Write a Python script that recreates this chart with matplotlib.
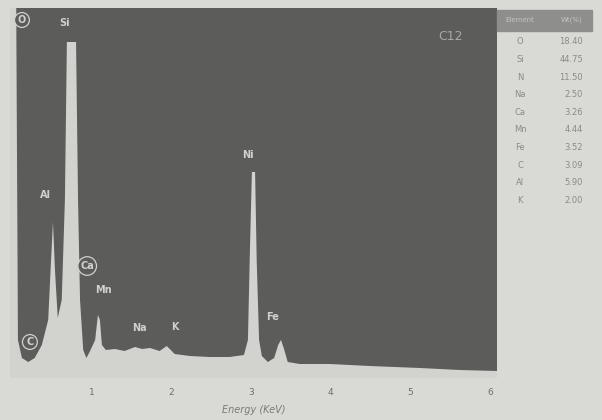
import matplotlib
matplotlib.use("Agg")
import matplotlib.pyplot as plt

# EDS spectrum trace (energy in keV, counts in arbitrary units)
energy = [-0.03, 0.02, 0.045, 0.07, 0.12, 0.20, 0.28, 0.37, 0.45, 0.48, 0.51, 0.535,
          0.57, 0.62, 0.66, 0.685, 0.80, 0.825, 0.85, 0.89, 0.93, 0.97, 1.04, 1.075,
          1.10, 1.125, 1.175, 1.29, 1.41, 1.54, 1.63, 1.73, 1.85, 1.94, 2.04, 2.23,
          2.48, 2.73, 2.91, 2.96, 2.985, 3.01, 3.05, 3.07, 3.10, 3.135, 3.21, 3.29,
          3.34, 3.375, 3.41, 3.46, 3.61, 3.99, 4.49, 5.12, 5.62, 6.09]
counts = [420, 420, 420, 38, 20, 16, 20, 33, 58, 108, 156, 108,
          60, 78, 178, 336, 336, 178, 78, 28, 20, 26, 38, 63,
          58, 33, 28, 29, 27, 31, 29, 30, 27, 32, 24, 22,
          21, 21, 23, 38, 128, 206, 206, 118, 38, 22, 16, 20,
          33, 38, 30, 16, 14, 14, 12, 10, 8, 7]

# Peak labels: (text, energy, counts, circled)
peak_labels = [("O", 0.12, 358, True), ("Si", 0.66, 355, False), ("Al", 0.41, 183, False),
               ("Ca", 0.94, 112, True), ("Mn", 1.15, 88, False), ("C", 0.22, 36, True),
               ("Na", 1.60, 50, False), ("K", 2.04, 51, False), ("Ni", 2.96, 223, False),
               ("Fe", 3.27, 61, False)]

# Composition table
elements = ["O", "Si", "N", "Na", "Ca", "Mn", "Fe", "C", "Al", "K"]
weights = ["18.40", "44.75", "11.50", "2.50", "3.26", "4.44", "3.52", "3.09", "5.90", "2.00"]

xticks = [1, 2, 3, 4, 5, 6]

paper = "#d9d9d5"
dark = "#5c5c5a"
fill = "#d2d2ce"
label_c = "#d0d0cc"

fig = plt.figure(figsize=(6.02, 4.20), dpi=100, facecolor=paper)
ax = fig.add_axes([10 / 602, 1 - 378 / 420, 487 / 602, 370 / 420])
ax.set_facecolor(dark)
ax.fill_between(energy, counts, 0, color=fill, lw=0)
ax.set_xlim(-0.03, 6.09)
ax.set_ylim(0, 370)
ax.set_yticks([])
ax.set_xticks(xticks)
ax.set_xticklabels([str(t) for t in xticks], fontsize=6.5, color="#6e6e6c")
ax.tick_params(axis="x", length=0, pad=7)
for s in ax.spines.values():
    s.set_visible(False)
ax.set_xlabel("Energy (KeV)", fontsize=7, style="italic", color="#7a7a78", labelpad=6)

for txt, e, c, circ in peak_labels:
    kw = {}
    if circ:
        kw["bbox"] = dict(boxstyle="circle,pad=0.25", fc=dark, ec=label_c, lw=0.9)
    ax.text(e, c, txt, fontsize=7, color=label_c, ha="center", va="center",
            fontweight="bold", **kw)

ax.text(5.5, 341, "C12", fontsize=9, color="#a8a8a4", ha="center", va="center")

# Element / weight table
fig.patches.append(plt.Rectangle((497 / 602, 1 - 31 / 420), 95 / 602, 21 / 420,
                                 transform=fig.transFigure, color="#8e8e8c", zorder=0))
fig.text(520 / 602, 1 - 20 / 420, "Element", fontsize=5, color="#c4c4c0", ha="center", va="center")
fig.text(572 / 602, 1 - 20 / 420, "Wt(%)", fontsize=5, color="#c4c4c0", ha="center", va="center")
for i, (el, w) in enumerate(zip(elements, weights)):
    y = 1 - (42 + i * 17.6) / 420
    fig.text(520 / 602, y, el, fontsize=6, color="#8a8a88", ha="center", va="center")
    fig.text(583 / 602, y, w, fontsize=6, color="#8a8a88", ha="right", va="center")

fig.savefig("out.png", dpi=100, facecolor=paper)
